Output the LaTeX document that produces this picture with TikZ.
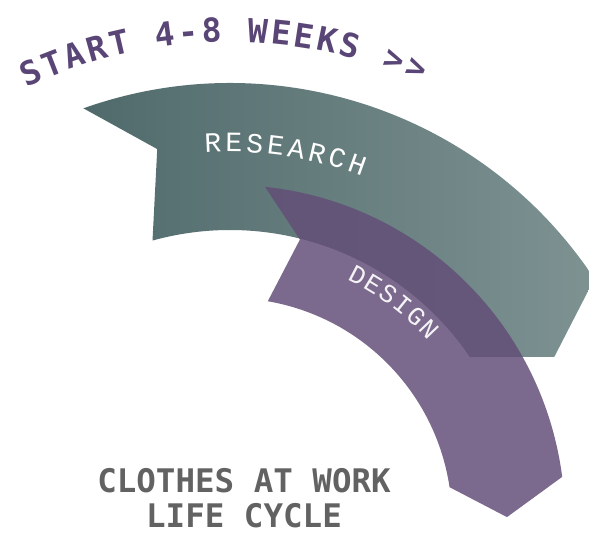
\documentclass[tikz,border=0pt]{standalone}
\usepackage{fontspec}
\usepackage{tikz}
\usetikzlibrary{positioning}
\usepackage{xcolor}

\newfontfamily\dvmono{DejaVu Sans Mono}
\newfontfamily\libmono{Liberation Mono}

\definecolor{resdark}{RGB}{80,106,107}
\definecolor{reslight}{RGB}{126,146,146}
\definecolor{dsgnfill}{RGB}{98,78,119}
\definecolor{titlepurple}{RGB}{90,70,118}
\definecolor{capgray}{RGB}{98,98,98}

\begin{document}
\begin{tikzpicture}[x=1pt, y=1pt,
  titlelt/.style={anchor=base, inner sep=0pt, text=titlepurple, font=\dvmono\bfseries\fontsize{33}{36}\selectfont},
  reslt/.style={anchor=base, inner sep=0pt, text=white, font=\libmono\fontsize{28}{30}\selectfont},
  dsgnlt/.style={anchor=base, inner sep=0pt, text=white!93!dsgnfill, font=\libmono\fontsize{26}{28}\selectfont},
  captxt/.style={anchor=base, inner sep=0pt, text=capgray, font=\dvmono\bfseries\fontsize{32.5}{36}\selectfont}]
  \useasboundingbox (0,0) rectangle (589,533);

  \begin{scope}[shift={(230,13)}]
    % research band
    \shade[left color=resdark, right color=reslight]
      (109.6:437) arc[start angle=109.6, end angle=33.5, radius=437]
      -- (26.7:363) -- (34.2:290)
      arc[start angle=34.2, end angle=105.5, radius=290]
      -- (101.1:378) -- cycle;

    % design band
    \fill[dsgnfill, opacity=0.84]
      (84:335) arc[start angle=84, end angle=7.4, radius=335]
      -- (0.6:277) -- (8.5:222)
      arc[start angle=8.5, end angle=80.2, radius=222]
      -- (76:289) -- cycle;

    % curved labels
    \foreach \ch [count=\i from 0] in {S,T,A,R,T,,4,-,8,,W,E,E,K,S,,>,>} {
      \pgfmathsetmacro\ang{114-\i*2.73}
      \node[titlelt, rotate=\ang-90] (start-\i) at (\ang:478) {\ch};
    }
    \foreach \ch [count=\i from 0] in {R,E,S,E,A,R,C,H} {
      \pgfmathsetmacro\ang{92.6-\i*3.19}
      \node[reslt, rotate=\ang-90] (res-\i) at (\ang:368) {\ch};
    }
    \foreach \ch [count=\i from 0] in {D,E,S,I,G,N} {
      \pgfmathsetmacro\ang{62.4-\i*3.72}
      \node[dsgnlt, rotate=\ang-90] (dsgn-\i) at (\ang:267) {\ch};
    }
  \end{scope}

  \node[captxt] (lc1) at (244,41) {CLOTHES AT WORK};
  \node[captxt] (lc2) at (244,5.5) {LIFE CYCLE};
\end{tikzpicture}
\end{document}
